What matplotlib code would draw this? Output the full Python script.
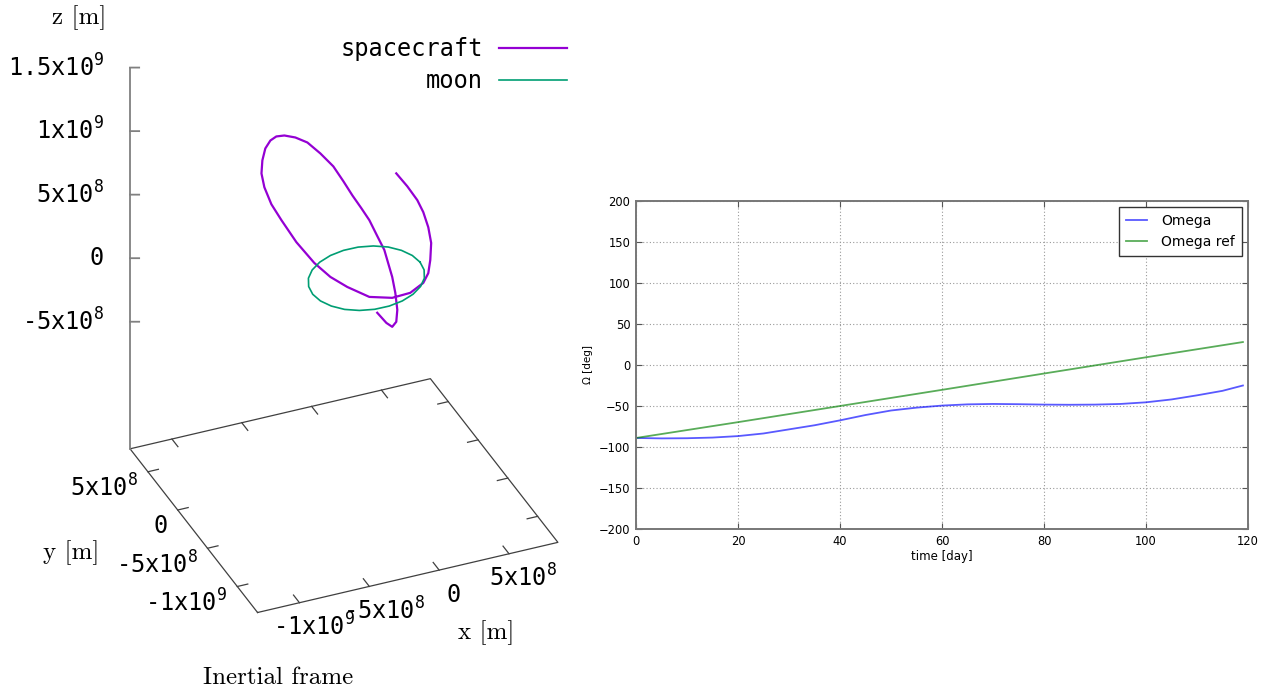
import matplotlib
matplotlib.use("Agg")
import matplotlib.pyplot as plt
import numpy as np

plt.rcParams["mathtext.fontset"] = "custom"
plt.rcParams["mathtext.rm"] = "DejaVu Sans Mono"
plt.rcParams["mathtext.default"] = "rm"

# ---- left panel: inertial frame trajectory (units of 1e8 m) ----
sc_x = [1.16, 1.75, 2.13, 2.39, 2.46, 2.33, 2.13, 1.62, 1.16, 0.65, 0.13, -0.45, -1.03,
        -1.68, -2.52, -3.36, -4.14, -4.85, -5.37, -5.75, -6.08, -6.27, -6.33, -6.14,
        -5.69, -5.04, -4.07, -2.91, -1.87, -0.78, 0.65, 2.13, 3.30, 4.14, 4.46, 4.59,
        4.65, 4.46, 4.14, 3.75, 3.10, 2.39]
sc_y = [-0.29, -0.44, -0.53, -0.60, -0.61, -0.58, -0.53, -0.40, -0.29, -0.16, -0.03, 0.11, 0.26,
        0.42, 0.63, 0.84, 1.03, 1.21, 1.34, 1.44, 1.52, 1.57, 1.58, 1.54,
        1.42, 1.26, 1.02, 0.73, 0.47, 0.19, -0.16, -0.53, -0.82, -1.03, -1.12, -1.15,
        -1.16, -1.12, -1.03, -0.94, -0.78, -0.60]
sc_z = [-2.94, -3.80, -4.15, -3.78, -2.85, -1.50, -0.23, 1.95, 3.10, 4.40, 5.40, 6.47, 7.64,
        8.88, 9.99, 10.94, 11.42, 11.65, 11.63, 11.35, 10.76, 9.84, 8.82, 7.71,
        6.33, 5.01, 3.17, 1.41, 0.20, -0.70, -1.64, -1.87, -1.60, -0.91, -0.17, 0.85,
        2.18, 3.44, 4.66, 5.65, 6.81, 7.90]

moon_x = [4.09, 3.96, 3.58, 2.97, 2.17, 1.24, 0.25, -0.74, -1.67, -2.47, -3.08, -3.46,
          -3.59, -3.46, -3.08, -2.47, -1.67, -0.74, 0.25, 1.24, 2.17, 2.97, 3.58, 3.96, 4.09]
moon_y = [-0.60, 0.39, 1.32, 2.12, 2.73, 3.11, 3.24, 3.11, 2.73, 2.12, 1.32, 0.39,
          -0.60, -1.59, -2.52, -3.32, -3.93, -4.31, -4.44, -4.31, -3.93, -3.32, -2.52, -1.59, -0.60]
moon_z = [0.48, 0.44, 0.38, 0.32, 0.24, 0.16, 0.08, 0.01, -0.05, -0.09, -0.10, -0.10,
          -0.08, -0.04, 0.02, 0.08, 0.16, 0.24, 0.32, 0.39, 0.45, 0.49, 0.50, 0.50, 0.48]

x_range = (-1.30e9, 0.85e9)
y_range = (-1.34e9, 0.80e9)
z_range = (-5e8, 1.5e9)
x_ticks = [-1e9, -5e8, 0, 5e8]
x_tick_labels = ["-1x$10^{9}$", "-5x$10^{8}$", "0", "5x$10^{8}$"]
y_ticks = [-1e9, -5e8, 0, 5e8]
y_tick_labels = ["-1x$10^{9}$", "-5x$10^{8}$", "0", "5x$10^{8}$"]
z_ticks = [-5e8, 0, 5e8, 1e9, 1.5e9]
z_tick_labels = ["-5x$10^{8}$", "0", "5x$10^{8}$", "1x$10^{9}$", "1.5x$10^{9}$"]

# ---- right panel: Omega vs time ----
t_days = [0, 5, 10, 15, 20, 25, 30, 35, 40, 45, 50, 55, 60, 65, 70, 75, 80, 85, 90,
          95, 100, 105, 110, 115, 119]
omega = [-89, -89.5, -89.3, -88.5, -86.7, -83.5, -78.5, -73.5, -67.5, -61, -55.5, -52,
         -49.5, -48, -47.5, -47.8, -48.3, -48.5, -48.3, -47.5, -45.5, -42, -37, -31.5, -25]
t_ref = [0, 20, 40, 60, 80, 100, 119]
omega_ref = [-89, -69.7, -50, -30.3, -10.4, 9.4, 28]

mono = "DejaVu Sans Mono"
serif = "cmr10"
gp_size = 17

fig = plt.figure(figsize=(12.77, 6.90), dpi=100)

ax = fig.add_axes([0.0164, 0.0899, 0.4926, 0.9116], projection="3d", proj_type="ortho")
ax.set_facecolor("none")
ax.set_axis_off()
ax.view_init(elev=33.2, azim=-113.1)

s = 1e8
ax.plot(np.array(sc_x) * s, np.array(sc_y) * s, np.array(sc_z) * s,
        color="#9400d3", lw=1.6, label="spacecraft")
ax.plot(np.array(moon_x) * s, np.array(moon_y) * s, np.array(moon_z) * s,
        color="#009e73", lw=1.2, label="moon")

x0, x1 = x_range
y0, y1 = y_range
zb = z_range[0] - 0.5 * (z_range[1] - z_range[0])  # ticslevel 0.5
box_col = "#404040"
ax.plot([x0, x1, x1, x0, x0], [y0, y0, y1, y1, y0], [zb] * 5, color=box_col, lw=0.9)
ax.plot([x0, x0], [y1, y1], [zb, z_range[1]], color="#808080", lw=1.3)

# ticks
tx = 0.075e9
ty = 0.1e9
for xt, lab in zip(x_ticks, x_tick_labels):
    ax.plot([xt, xt], [y0, y0 + ty], [zb, zb], color=box_col, lw=0.9)
    ax.plot([xt, xt], [y1, y1 - ty], [zb, zb], color=box_col, lw=0.9)
    ax.text(xt, y0 - 0.24e9, zb - 0.05e9, lab, ha="center", va="center",
            fontsize=gp_size, fontfamily=mono)
for yt, lab in zip(y_ticks, y_tick_labels):
    ax.plot([x0, x0 + tx], [yt, yt], [zb, zb], color=box_col, lw=0.9)
    ax.plot([x1, x1 - tx], [yt, yt], [zb, zb], color=box_col, lw=0.9)
    ax.text(x0 - 0.07e9, yt, zb - 0.11e9, lab, ha="right", va="center",
            fontsize=gp_size, fontfamily=mono)
ux, uy = 0.920, -0.392
for zt, lab in zip(z_ticks, z_tick_labels):
    ax.plot([x0, x0 + 0.06e9 * ux], [y1, y1 + 0.06e9 * uy], [zt, zt], color="#808080", lw=1.3)
    ax.text(x0 - 0.17e9 * ux, y1 - 0.17e9 * uy, zt, lab, ha="right", va="center",
            fontsize=gp_size, fontfamily=mono)

ax.set_xlim(x0, x1)
ax.set_ylim(y0, y1)
ax.set_zlim(zb, z_range[1])
ax.set_box_aspect((x1 - x0, y1 - y0, z_range[1] - zb))

ax.legend(loc="upper right", bbox_to_anchor=(567 / 1277, 1 - 37 / 690),
          bbox_transform=fig.transFigure, frameon=False, markerfirst=False,
          prop={"family": mono, "size": gp_size}, handlelength=2.9,
          handletextpad=0.65, labelspacing=0.35, borderpad=0, borderaxespad=0)

fig.text(79 / 1277, 1 - 18 / 690, "z [m]", ha="center", va="center", fontsize=18, fontfamily=serif)
fig.text(71 / 1277, 1 - 553 / 690, "y [m]", ha="center", va="center", fontsize=18, fontfamily=serif)
fig.text(486 / 1277, 1 - 633 / 690, "x [m]", ha="center", va="center", fontsize=18, fontfamily=serif)
fig.text(278 / 1277, 1 - 678 / 690, "Inertial frame", ha="center", va="center", fontsize=18,
         fontfamily=serif)

# right panel
ax2 = fig.add_axes([636 / 1277, 1 - 529 / 690, 612 / 1277, 328 / 690])
ax2.plot(t_days, omega, color="b", lw=1.3, alpha=0.65, label="Omega")
ax2.plot(t_ref, omega_ref, color="g", lw=1.3, alpha=0.65, label="Omega ref")
ax2.set_xlim(0, 120)
ax2.set_ylim(-200, 200)
ax2.set_xticks(range(0, 121, 20))
ax2.set_yticks(range(-200, 201, 50))
ax2.grid(True, color="#999999", linestyle=(0, (1, 2)), lw=0.8)
ax2.tick_params(direction="in", top=True, right=True, labelsize=8.3, length=4,
                color="#555555", pad=4)
for sp in ax2.spines.values():
    sp.set_color("#777777")
    sp.set_linewidth(1.4)
ax2.set_xlabel("time [day]", fontsize=8.5, labelpad=2)
ax2.set_ylabel("\u03a9 [deg]", fontsize=7.5, labelpad=4)
ax2.legend(loc="upper right", fontsize=10, fancybox=False, edgecolor="#333333",
           framealpha=1, handlelength=1.5, handletextpad=1.0, labelspacing=0.5,
           borderpad=0.5, borderaxespad=0.45)

fig.savefig("out.png", dpi=100)
